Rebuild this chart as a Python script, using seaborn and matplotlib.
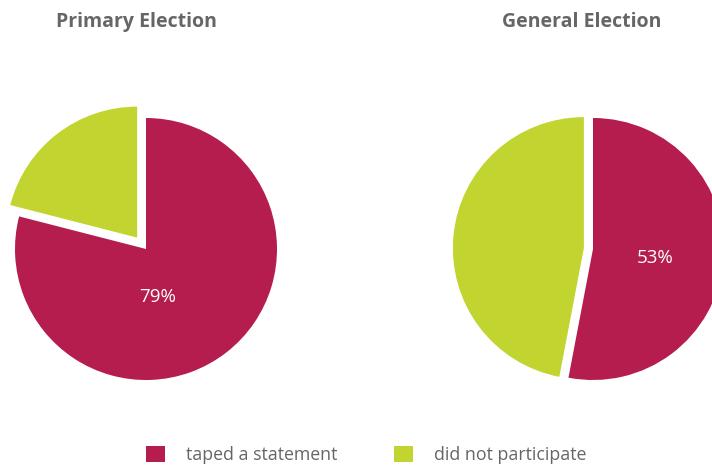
import matplotlib
matplotlib.use("Agg")
import matplotlib.pyplot as plt
import seaborn as sns
from matplotlib.patches import Patch

sns.set_theme(style="white")
plt.rcParams['font.family'] = ['Open Sans', 'DejaVu Sans']

# Data
titles = ["Primary Election", "General Election"]
categories = ["taped a statement", "did not participate"]
primary_values = [79, 21]
general_values = [53, 47]
colors = ["#B41D4E", "#C2D430"]
text_gray = "#666666"

W, H = 712, 466
fig = plt.figure(figsize=(W / 100, H / 100), dpi=100)
fig.patch.set_facecolor("white")

R = 131.0
half = 150.0
L = half / R

def make_ax(cx, cy):
    ax = fig.add_axes([(cx - half) / W, (H - cy - half) / H, 2 * half / W, 2 * half / H])
    return ax

# Primary
ax1 = make_ax(146, 249)
w1, t1, a1 = ax1.pie(primary_values, colors=colors, startangle=90, counterclock=False,
                     explode=[0, 0.11], autopct=lambda p: f"{p:.0f}%", pctdistance=0.4,
                     wedgeprops=dict(linewidth=0),
                     textprops=dict(color="white", fontsize=13.5))
a1[1].set_visible(False)
a1[0].set_position((0.092, -0.366))
ax1.set_xlim(-L, L)
ax1.set_ylim(-L, L)
ax1.axis("off")

# General
ax2 = make_ax(593, 249)
w2, t2, a2 = ax2.pie(general_values, colors=colors, startangle=90, counterclock=False,
                     explode=[0, 0.07], autopct=lambda p: f"{p:.0f}%", pctdistance=0.48,
                     wedgeprops=dict(linewidth=0),
                     textprops=dict(color="white", fontsize=13.5))
a2[1].set_visible(False)
a2[0].set_position((0.473, -0.069))
ax2.set_xlim(-L, L)
ax2.set_ylim(-L, L)
ax2.axis("off")

# Titles
fig.text(136.5 / W, 1 - 22 / H, titles[0], ha="center", va="center",
         fontsize=14, fontweight="bold", color=text_gray)
fig.text(581.5 / W, 1 - 22 / H, titles[1], ha="center", va="center",
         fontsize=14, fontweight="bold", color=text_gray)

# Legend
handles = [Patch(facecolor=c, edgecolor="none", label=lab) for c, lab in zip(colors, categories)]
leg = fig.legend(handles=handles, loc="center", bbox_to_anchor=(366.5 / W, 11 / H),
                 ncol=2, frameon=False, fontsize=12.8, handlelength=1.05, handleheight=1.05,
                 handletextpad=1.2, columnspacing=3.2, borderpad=0)
for t in leg.get_texts():
    t.set_color(text_gray)

fig.savefig("out.png", dpi=100, facecolor="white")
